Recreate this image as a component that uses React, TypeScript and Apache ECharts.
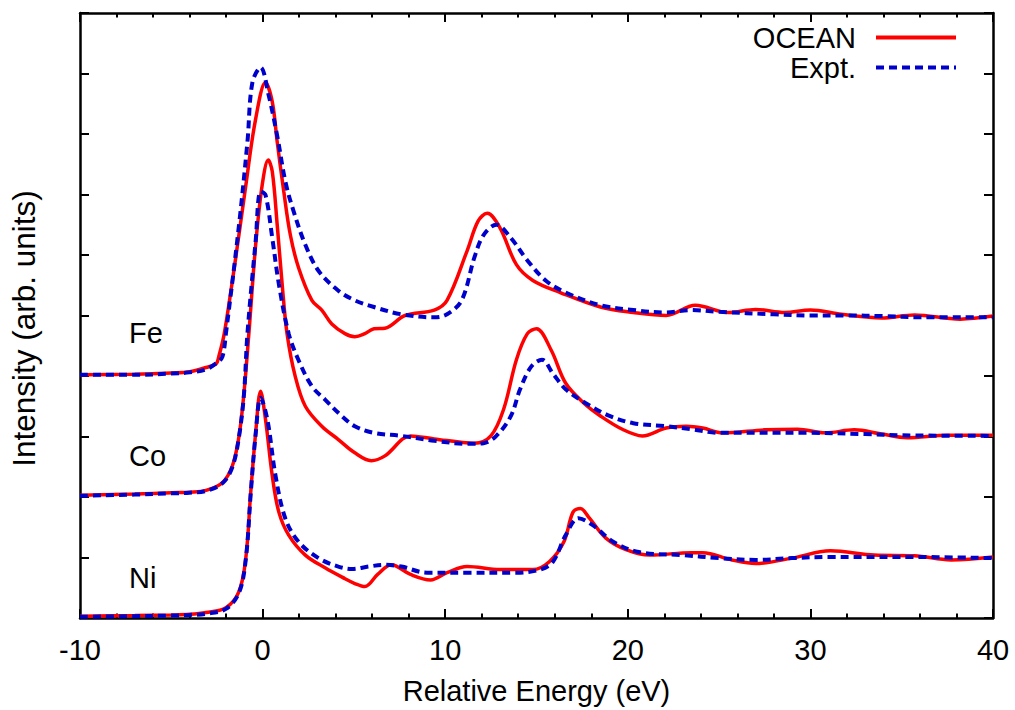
import React, { useEffect, useRef } from "react";
import * as echarts from "echarts";

// Energy axis ticks (eV)
const xTicks = [-10, 0, 10, 20, 30, 40];

// Fe K-edge: OCEAN calculation and experiment (offset +4)
const feOcean: number[][] = [
  [-10, 4.02], [-7, 4.03], [-5, 4.05], [-4, 4.07], [-3.1, 4.14], [-2.55, 4.2], [-2.4, 4.32],
  [-2.1, 4.7], [-1.47, 5.96], [-0.92, 7.15], [-0.38, 8.25], [0.16, 8.85], [0.53, 8.53],
  [0.8, 7.87], [1.16, 7.05], [1.52, 6.33], [1.97, 5.79], [2.7, 5.25], [3.24, 5.09],
  [3.79, 4.86], [4.51, 4.7], [5.05, 4.65], [5.6, 4.7], [6.1, 4.78], [6.7, 4.79], [7.8, 5.0],
  [9.4, 5.09], [10.1, 5.25], [11.2, 6.07], [11.8, 6.56], [12.3, 6.69], [13.0, 6.45],
  [13.9, 5.84], [14.8, 5.58], [16.3, 5.38], [18.5, 5.14], [20.3, 5.05], [22.1, 5.0],
  [23.7, 5.17], [25.5, 5.05], [27, 5.1], [28.6, 5.05], [30, 5.09], [31.7, 5.02],
  [33.9, 4.96], [35.7, 5.01], [38.2, 4.94], [40, 4.99],
];
const feExpt: number[][] = [
  [-10, 4.02], [-7, 4.02], [-5, 4.04], [-4, 4.06], [-3.1, 4.11], [-2.5, 4.22], [-2.2, 4.32],
  [-2.01, 4.7], [-1.29, 6.5], [-0.83, 7.87], [-0.56, 8.85], [-0.11, 9.1], [0.34, 8.63],
  [0.8, 7.97], [1.25, 7.21], [1.7, 6.72], [2.34, 6.17], [3.06, 5.74], [4.15, 5.41],
  [5.05, 5.25], [6.1, 5.14], [7.6, 5.02], [9.4, 4.97], [10.1, 5.02], [10.9, 5.25],
  [11.6, 5.96], [12.1, 6.33], [12.8, 6.5], [13.6, 6.28], [14.5, 5.91], [15.5, 5.58],
  [16.6, 5.38], [18.5, 5.17], [20.3, 5.09], [22.1, 5.05], [23.5, 5.09], [25, 5.06],
  [28, 5.02], [30, 5.0], [32, 5.0], [34, 4.99], [36, 4.97], [40, 4.97],
];

// Co K-edge (offset +2)
const coOcean: number[][] = [
  [-10, 2.03], [-7, 2.05], [-5, 2.07], [-4, 2.08], [-3.1, 2.11], [-2.19, 2.24], [-1.65, 2.52],
  [-1.29, 3.01], [-1.02, 3.72], [-0.74, 4.75], [-0.38, 6.17], [-0.02, 7.16], [0.31, 7.57],
  [0.53, 7.38], [0.8, 6.5], [1.07, 5.52], [1.34, 4.7], [1.79, 3.99], [2.34, 3.5],
  [3.24, 3.17], [4.15, 2.95], [5.05, 2.73], [5.95, 2.6], [6.7, 2.68], [8.1, 3.01],
  [9.4, 2.96], [11.6, 2.89], [12.5, 3.01], [13.2, 3.45], [13.9, 4.27], [14.5, 4.7],
  [15.0, 4.78], [15.8, 4.43], [16.6, 3.88], [17.6, 3.55], [18.5, 3.34], [19.7, 3.12],
  [20.8, 3.01], [22.1, 3.14], [23.2, 3.17], [24.1, 3.14], [25.2, 3.06], [27.5, 3.11],
  [29.3, 3.12], [30.8, 3.06], [32.4, 3.11], [33.9, 3.04], [35.3, 2.98], [37.5, 3.02], [40, 3.02],
];
const coExpt: number[][] = [
  [-10, 2.02], [-7, 2.04], [-5, 2.06], [-4, 2.07], [-3.1, 2.1], [-2.19, 2.23], [-1.65, 2.5],
  [-1.29, 3.0], [-1.02, 3.7], [-0.83, 4.7], [-0.38, 6.23], [-0.11, 7.05], [0.16, 6.99],
  [0.53, 6.28], [0.89, 5.52], [1.43, 4.7], [1.97, 4.26], [2.7, 3.83], [3.42, 3.61],
  [4.33, 3.34], [5.05, 3.17], [6.1, 3.06], [7.6, 3.01], [9.4, 2.93], [11.2, 2.88],
  [12.1, 2.89], [12.8, 3.01], [13.6, 3.34], [14.1, 3.78], [14.7, 4.15], [15.3, 4.27],
  [15.9, 4.04], [16.6, 3.78], [17.7, 3.55], [19.0, 3.34], [20.3, 3.22], [22.1, 3.17],
  [23.5, 3.12], [25, 3.06], [30, 3.06], [33, 3.04], [35, 3.02], [40, 3.01],
];

// Ni K-edge (offset 0)
const niOcean: number[][] = [
  [-10, 0.03], [-7, 0.04], [-5, 0.05], [-4, 0.06], [-3.1, 0.09], [-2.01, 0.17], [-1.29, 0.44],
  [-0.92, 0.99], [-0.65, 2.08], [-0.38, 3.06], [-0.11, 3.75], [0.16, 3.28], [0.53, 2.35],
  [0.89, 1.75], [1.43, 1.37], [2.34, 1.04], [3.42, 0.83], [4.51, 0.65], [5.05, 0.57],
  [5.6, 0.52], [6.3, 0.72], [7.05, 0.88], [8.1, 0.72], [9.2, 0.63], [10.1, 0.75],
  [11.2, 0.85], [13.0, 0.8], [14.8, 0.8], [15.7, 0.93], [16.5, 1.26], [17.0, 1.75],
  [17.4, 1.81], [17.9, 1.65], [18.8, 1.32], [19.9, 1.13], [21.2, 1.04], [23.5, 1.08],
  [24.1, 1.08], [25.7, 0.96], [27, 0.9], [29, 0.99], [31.1, 1.11], [33.5, 1.04],
  [35.7, 1.03], [37.7, 0.96], [40, 1.01],
];
const niExpt: number[][] = [
  [-10, 0.02], [-7, 0.03], [-5, 0.04], [-4, 0.05], [-3.1, 0.07], [-2.01, 0.15], [-1.29, 0.42],
  [-0.92, 0.97], [-0.65, 2.06], [-0.38, 3.04], [-0.11, 3.64], [0.26, 3.28], [0.71, 2.35],
  [1.25, 1.64], [1.97, 1.26], [3.06, 0.99], [4.15, 0.85], [4.9, 0.81], [5.8, 0.85],
  [6.7, 0.88], [7.6, 0.85], [9.0, 0.75], [11.2, 0.75], [13.9, 0.75], [15.2, 0.8],
  [15.9, 0.93], [16.6, 1.37], [17.3, 1.65], [18.1, 1.53], [19.2, 1.26], [20.6, 1.09],
  [23, 1.04], [25, 0.99], [27, 0.96], [29, 0.99], [31, 1.01], [35, 1.01], [40, 0.99],
];

// Element labels and their heights (intensity units)
const elements = ["Fe", "Co", "Ni"];
const elementLabelLevels = [4.76, 2.75, 0.75];

const FONT = '"Liberation Sans", Arial, Helvetica, sans-serif';
const RED = "#ff0000";
const BLUE = "#0000cc";

export default function App() {
  const ref = useRef<HTMLDivElement>(null);

  useEffect(() => {
    if (!ref.current) return;
    const chart = echarts.init(ref.current, undefined, { renderer: "svg" });

    const gridLeft = 73;
    const gridTop = 13;
    const gridW = 920;
    const gridH = 611;

    const oceanSets = [feOcean, coOcean, niOcean];
    const exptSets = [feExpt, coExpt, niExpt];

    const series: any[] = [];
    oceanSets.forEach((d) =>
      series.push({
        name: "OCEAN",
        type: "line",
        data: d,
        smooth: 0.35,
        symbol: "none",
        lineStyle: { color: RED, width: 3.5 },
        itemStyle: { color: RED },
        z: 2,
      })
    );
    exptSets.forEach((d) =>
      series.push({
        name: "Expt.",
        type: "line",
        data: d,
        smooth: 0.35,
        symbol: "none",
        lineStyle: { color: BLUE, width: 4, type: [8, 5] },
        itemStyle: { color: BLUE },
        z: 3,
      })
    );

    const axisLine = { show: true, onZero: false, lineStyle: { color: "#000", width: 2.5 } };
    const tickStyle = { color: "#000", width: 2 };

    chart.setOption({
      animation: false,
      backgroundColor: "#fff",
      grid: { left: gridLeft, top: gridTop, width: gridW, height: gridH, containLabel: false },
      legend: {
        data: ["OCEAN", "Expt."],
        orient: "vertical",
        right: 57,
        top: 23,
        padding: 0,
        align: "right",
        itemWidth: 80,
        itemHeight: 20,
        itemGap: 1,
        itemStyle: { color: "rgba(0,0,0,0)", borderWidth: 0, opacity: 0 },
        lineStyle: { width: 4 },
        textStyle: { fontSize: 29, fontFamily: FONT, color: "#000", padding: [0, 15, 0, 0] },
      },
      xAxis: [
        {
          type: "value",
          position: "bottom",
          min: xTicks[0],
          max: xTicks[xTicks.length - 1],
          interval: 10,
          axisLine,
          axisTick: { show: true, inside: true, length: 9, lineStyle: tickStyle },
          minorTick: { show: true, splitNumber: 5, length: 4.5, lineStyle: tickStyle },
          axisLabel: { fontSize: 29, fontFamily: FONT, color: "#000", margin: 17 },
          splitLine: { show: false },
          name: "Relative Energy (eV)",
          nameLocation: "middle",
          nameGap: 58,
          nameTextStyle: { fontSize: 29, fontFamily: FONT, color: "#000" },
        },
        {
          type: "value",
          position: "top",
          min: xTicks[0],
          max: xTicks[xTicks.length - 1],
          interval: 10,
          axisLine,
          axisTick: { show: true, inside: true, length: 9, lineStyle: tickStyle },
          minorTick: { show: true, splitNumber: 5, length: 4.5, lineStyle: tickStyle },
          axisLabel: { show: false },
          splitLine: { show: false },
        },
      ],
      yAxis: [
        {
          type: "value",
          position: "left",
          min: 0,
          max: 10,
          interval: 1,
          axisLine,
          axisTick: { show: true, inside: true, length: 9, lineStyle: tickStyle },
          axisLabel: { show: false },
          splitLine: { show: false },
          name: "Intensity (arb. units)",
          nameLocation: "middle",
          nameGap: 40,
          nameTextStyle: { fontSize: 31.5, fontFamily: FONT, color: "#000", padding: [0, 26, 0, 0] },
        },
        {
          type: "value",
          position: "right",
          min: 0,
          max: 10,
          interval: 1,
          axisLine,
          axisTick: { show: true, inside: true, length: 9, lineStyle: tickStyle },
          axisLabel: { show: false },
          splitLine: { show: false },
        },
      ],
      graphic: elements.map((el, i) => ({
        type: "text",
        x: 129,
        y: gridTop + gridH * (1 - elementLabelLevels[i] / 10),
        style: { text: el, font: `29px ${FONT}`, fill: "#000", verticalAlign: "middle" },
        z: 10,
      })),
      series,
    });

    return () => chart.dispose();
  }, []);

  return (
    <div
      ref={ref}
      style={{ position: "absolute", left: 0, top: 0, width: 1015, height: 710 }}
    />
  );
}
